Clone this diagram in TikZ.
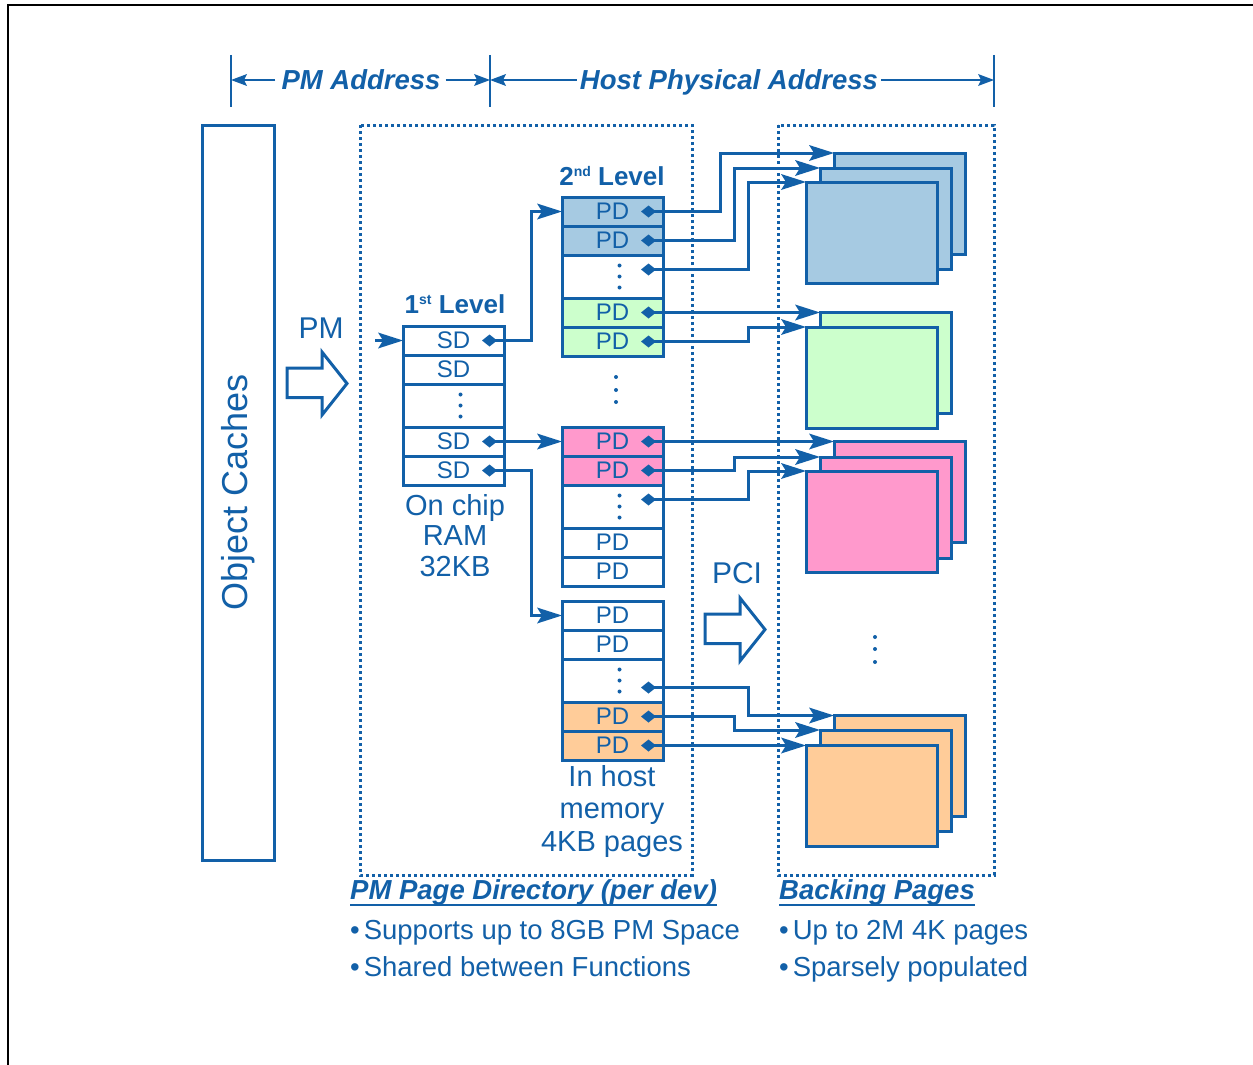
\documentclass[tikz,border=0pt]{standalone}
\usepackage{fontspec}
\setmainfont{Liberation Sans}
\usetikzlibrary{arrows.meta,positioning}
\definecolor{pdink}{HTML}{1260A8}
\definecolor{pdblue}{HTML}{A6CAE2}
\definecolor{pdgreen}{HTML}{CCFFCC}
\definecolor{pdpink}{HTML}{FF99CC}
\definecolor{pdorange}{HTML}{FFCC99}
\newcommand{\lvlsup}[1]{\raisebox{8.5pt}{\fontsize{14}{14}\selectfont #1}}
\tikzset{
  pd line/.style={draw=pdink, line width=3pt},
  pd cell/.style={draw=pdink, line width=3pt, fill=white, minimum width=101pt,
    minimum height=29pt, inner sep=0pt, outer sep=0pt,
    font=\fontsize{24}{24}\selectfont, text=pdink},
  pd gap/.style={pd cell, minimum height=43pt},
  pd page/.style={draw=pdink, line width=3pt, minimum width=131pt, minimum height=101pt,
    inner sep=0pt, outer sep=0pt, anchor=north west},
  pd arrow/.style={-{Stealth[length=25pt,width=16pt,inset=5pt,line width=0pt]},
    draw=pdink, line width=3pt},
  pd link/.style={{Diamond[length=15pt,width=12pt,line width=0pt]}-{Stealth[length=25pt,width=16pt,inset=5pt,line width=0pt]},
    draw=pdink, line width=3pt},
  pd span/.style={-{Stealth[length=16pt,width=12pt,inset=3pt,line width=0pt]},
    draw=pdink, line width=2.5pt},
  pd dotbox/.style={draw=pdink, line width=3pt, dash pattern=on 3pt off 3pt},
  pd label/.style={font=\bfseries\fontsize{26}{28}\selectfont, text=pdink, inner sep=0pt},
  pd big/.style={font=\fontsize{30}{32}\selectfont, text=pdink, inner sep=0pt},
  pd note/.style={font=\fontsize{29}{30.5}\selectfont, text=pdink, align=center, inner sep=0pt},
  pd head/.style={font=\bfseries\itshape\fontsize{27.5}{30}\selectfont, text=pdink, inner sep=0pt},
  pd bullet/.style={font=\fontsize{27.5}{30}\selectfont, text=pdink, inner sep=0pt, anchor=base west}
}
\begin{document}
\begin{tikzpicture}[x=1pt, y=-1pt]
  \useasboundingbox (0,0) rectangle (1253,1065);
  \draw[black, line width=2pt] (8,1065) -- (8,5) -- (1253,5);

  % address spans
  \foreach \x in {231,490,994} \draw[pd line, line width=2.5pt] (\x,55) -- (\x,107);
  \coordinate (tickl) at (231,80);
  \coordinate (tickm) at (490,80);
  \coordinate (tickr) at (994,80);
  \node[pd head, anchor=base] (pmaddr) at (361,89) {PM Address};
  \node[pd head, anchor=base] (hostaddr) at (729,89) {Host Physical Address};
  \draw[pd span] ([xshift=-6pt]pmaddr.west |- tickl) -- (tickl);
  \draw[pd span] ([xshift=5pt]pmaddr.east |- tickm) -- (tickm);
  \draw[pd span] ([xshift=-3pt]hostaddr.west |- tickm) -- (tickm);
  \draw[pd span] ([xshift=3pt]hostaddr.east |- tickr) -- (tickr);

  \node[pd line, rotate=90, minimum width=735pt, minimum height=72pt,
    font=\fontsize{36}{36}\selectfont, text=pdink] (caches) at (238,492.5) {Object Caches};

  \draw[pd dotbox] (360,125) rectangle (692,875);
  \draw[pd dotbox] (778,125) rectangle (994,875);

  % hollow arrows
  \foreach \ax/\ay in {287/352,705/598}
    \draw[pd line, line join=miter] (\ax,\ay+16) -- ++(35,0) -- ++(0,-16) -- ++(25,31.5)
      -- ++(-25,31.5) -- ++(0,-17.5) -- ++(-35,0) -- cycle;
  \node[pd big, anchor=base] (pmlbl) at (321,338) {PM};
  \node[pd big, anchor=base] (pcilbl) at (737,583) {PCI};

  % directory tables
  \foreach \t/\x/\y/\ca/\cb/\lbl in {s/403/326/white/white/SD, a/562/197/pdblue/pdgreen/PD,
      b/562/427/pdpink/white/PD, c/562/601/white/pdorange/PD} {
    \node[pd cell, fill=\ca, anchor=north west] (\t1) at (\x,\y) {\lbl};
    \node[pd cell, fill=\ca, below=0pt of \t1] (\t2) {\lbl};
    \node[pd gap, below=0pt of \t2] (\t3) {};
    \node[pd cell, fill=\cb, below=0pt of \t3] (\t4) {\lbl};
    \node[pd cell, fill=\cb, below=0pt of \t4] (\t5) {\lbl};
    \foreach \d in {-11,0,11} \fill[pdink] ([xshift=7pt,yshift=\d pt]\t3.center) circle (2pt);
  }
  \node[pd label, anchor=base] (lvl1) at (455,313) {1\lvlsup{st} Level};
  \node[pd label, anchor=base] (lvl2) at (612,185) {2\lvlsup{nd} Level};
  \node[pd note, anchor=north] (chipnote) at (455,494) {On chip\\RAM\\32KB};
  \node[pd note, anchor=north, font=\fontsize{29}{32.5}\selectfont] (hostnote) at (612,765) {In host\\memory\\4KB pages};
  \foreach \y in {377,390,402} \fill[pdink] (616,\y) circle (2pt);
  \foreach \y in {637,649,662} \fill[pdink] (875,\y) circle (2pt);

  % backing pages
  \node[pd page, fill=pdblue] (pb1) at (834,153) {};
  \node[pd page, fill=pdblue] (pb2) at (820,168) {};
  \node[pd page, fill=pdblue] (pb3) at (806,182) {};
  \node[pd page, fill=pdgreen] (pg1) at (820,312.5) {};
  \node[pd page, fill=pdgreen] (pg2) at (806,327) {};
  \node[pd page, fill=pdpink] (pp1) at (834,441.5) {};
  \node[pd page, fill=pdpink] (pp2) at (820,457) {};
  \node[pd page, fill=pdpink] (pp3) at (806,471) {};
  \node[pd page, fill=pdorange] (po1) at (834,715.5) {};
  \node[pd page, fill=pdorange] (po2) at (820,730) {};
  \node[pd page, fill=pdorange] (po3) at (806,745.5) {};

  % first level to second level
  \coordinate (pmin) at ([xshift=-28pt]s1.west);
  \draw[pd arrow] (pmin) -- (s1.west);
  \draw[pd link] ([xshift=-22pt]s1.east) -- ++(49,0) |- (a1.west);
  \draw[pd link] ([xshift=-22pt]s4.east) -- (b1.west);
  \draw[pd link] ([xshift=-22pt]s5.east) -- ++(49,0) |- (c1.west);

  % second level to backing pages
  \draw[pd link] ([xshift=-22pt]a1.east) -- ++(79,0) |- (pb1.north west);
  \draw[pd link] ([xshift=-22pt]a2.east) -- ++(93,0) |- (pb2.north west);
  \draw[pd link] ([xshift=-22pt,yshift=7pt]a3.east) -- ++(107,0) |- (pb3.north west);
  \draw[pd link] ([xshift=-22pt]a4.east) -- (pg1.north west);
  \draw[pd link] ([xshift=-22pt]a5.east) -- ++(107,0) |- (pg2.north west);
  \draw[pd link] ([xshift=-22pt]b1.east) -- (pp1.north west);
  \draw[pd link] ([xshift=-22pt]b2.east) -- ++(93,0) |- (pp2.north west);
  \draw[pd link] ([xshift=-22pt,yshift=7pt]b3.east) -- ++(107,0) |- (pp3.north west);
  \draw[pd link] ([xshift=-22pt,yshift=-7pt]c3.east) -- ++(107,0) |- (po1.north west);
  \draw[pd link] ([xshift=-22pt]c4.east) -- ++(93,0) |- (po2.north west);
  \draw[pd link] ([xshift=-22pt]c5.east) -- (po3.north west);

  % captions
  \node[pd head, anchor=base west] (pmdir) at (350,899) {PM Page Directory (per dev)};
  \draw[pd line, line width=2pt] ([yshift=-6pt]pmdir.base west) -- ([yshift=-6pt]pmdir.base east);
  \node[pd bullet] (pmdir1) at (350,939) {•\hspace{4pt}Supports up to 8GB PM Space};
  \node[pd bullet] (pmdir2) at (350,976) {•\hspace{4pt}Shared between Functions};
  \node[pd head, anchor=base west] (backing) at (779,899) {Backing Pages};
  \draw[pd line, line width=2pt] ([yshift=-6pt]backing.base west) -- ([yshift=-6pt]backing.base east);
  \node[pd bullet] (backing1) at (779,939) {•\hspace{4pt}Up to 2M 4K pages};
  \node[pd bullet] (backing2) at (779,976) {•\hspace{4pt}Sparsely populated};
\end{tikzpicture}
\end{document}
